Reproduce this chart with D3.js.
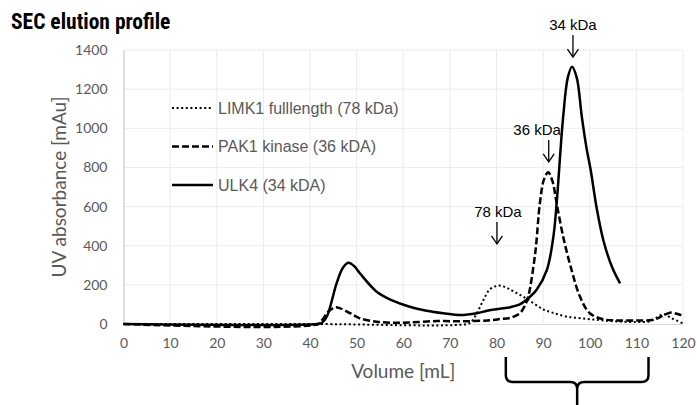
<!DOCTYPE html>
<html>
<head>
<meta charset="utf-8">
<script src="https://cdn.jsdelivr.net/npm/d3@7"></script>
<style>
  body { margin: 0; background: #fff; }
  svg { display: block; }
</style>
</head>
<body>
<div id="chart"></div>
<script>
// elution volume [mL] vs absorbance [mAu]
const limk1 = [[0, 0], [40, 0], [74, 2], [74.6, 12], [75.8, 55], [77.2, 123], [78.5, 175], [80, 194], [80.8, 196],
  [82.2, 185], [84, 162], [85.7, 140], [88, 105], [90, 75], [92, 58], [95, 38], [98.6, 28], [102.2, 20],
  [105.8, 13], [110, 10], [113, 14], [115.8, 50], [117.5, 30], [120, 3]];
const pak1 = [[0, 0], [41.8, 0], [42.6, 20], [44, 65], [45.4, 85], [46.5, 80], [48.6, 55], [50.7, 29], [54.3, 12],
  [58, 6], [61.4, 8], [67.2, 15], [72.9, 14], [78, 18], [80.7, 25], [83, 32], [85, 55], [86, 90], [86.8, 140],
  [88.3, 361], [89.3, 617], [90.2, 740], [91.1, 775], [92, 730], [92.9, 617], [94.3, 446], [96.1, 276],
  [97.9, 140], [100, 55], [102.9, 24], [106, 18], [110, 18], [113.6, 22], [115.5, 40], [117.2, 58], [119, 50], [120, 42]];
const ulk4 = [[0, 0], [41.6, 0], [42.5, 5], [43.6, 37], [45.7, 208], [47, 285], [48.2, 313], [49.5, 295],
  [50.7, 259], [54.3, 165], [57.5, 122], [61.4, 88], [65, 68], [68.6, 55], [72.2, 46], [75.8, 55], [78, 68],
  [80.7, 78], [83, 86], [85, 100], [86.5, 125], [88.6, 175], [90.8, 276], [92.2, 446], [92.9, 617],
  [94.3, 1059], [95.3, 1260], [96.2, 1315], [97.2, 1260], [98.3, 1059], [99.3, 900], [100.2, 787],
  [101.5, 590], [103, 420], [104.8, 290], [106.5, 208]];

const seriesNames = ['LIMK1 fulllength (78 kDa)', 'PAK1 kinase (36 kDA)', 'ULK4 (34 kDA)'];
const xTicks = [0, 10, 20, 30, 40, 50, 60, 70, 80, 90, 100, 110, 120];
const yTicks = [0, 200, 400, 600, 800, 1000, 1200, 1400];

// peak markers: label, volume, arrow tail / tip, label baseline (mAu)
const peakLabels = ['78 kDa', '36 kDa', '34 kDa'];
const peakVol = [80.1, 91.2, 96.4];
const labelVol = [80.3, 88.7, 96.4];
const arrowFrom = [521, 940, 1477];
const arrowTo = [409, 828, 1364];
const labelAt = [547, 966, 1502];
const bracketRange = [82, 112.6];

const width = 697, height = 405;
const margin = { top: 50, right: 14, bottom: 81, left: 123.5 };

const svg = d3.select('#chart').append('svg')
  .attr('width', width)
  .attr('height', height);

const x = d3.scaleLinear().domain([0, 120]).range([margin.left, width - margin.right]);
const y = d3.scaleLinear().domain([0, 1400]).range([height - margin.bottom, margin.top]);

// grid
svg.append('g').selectAll('line.v').data(xTicks.slice(1)).join('line')
  .attr('x1', d => x(d)).attr('x2', d => x(d))
  .attr('y1', y(0)).attr('y2', y(1400))
  .attr('stroke', '#ebebeb').attr('stroke-width', 1);
svg.append('g').selectAll('line.h').data(yTicks.slice(1)).join('line')
  .attr('x1', x(0)).attr('x2', x(120))
  .attr('y1', d => y(d)).attr('y2', d => y(d))
  .attr('stroke', '#ebebeb').attr('stroke-width', 1);

// axes
const yAxis = svg.append('g')
  .attr('transform', `translate(${x(0)},0)`)
  .call(d3.axisLeft(y).tickValues(yTicks).tickFormat(d3.format('d')).tickSize(0).tickPadding(16));
yAxis.select('.domain').attr('stroke', '#bfbfbf');
const xAxis = svg.append('g')
  .attr('transform', `translate(0,${y(0)})`)
  .call(d3.axisBottom(x).tickValues(xTicks).tickFormat(d3.format('d')).tickSize(0).tickPadding(14));
xAxis.select('.domain').attr('stroke', '#d9d9d9');
svg.selectAll('.tick text')
  .attr('font-family', 'Lato, "Open Sans", sans-serif')
  .attr('font-size', 14)
  .attr('fill', '#595959');

svg.append('text')
  .attr('transform', `translate(66,${(y(0) + y(1400)) / 2}) rotate(-90)`)
  .attr('text-anchor', 'middle')
  .attr('font-family', 'Lato, "Open Sans", sans-serif')
  .attr('font-size', 19)
  .attr('fill', '#595959')
  .text('UV absorbance [mAu]');

svg.append('text')
  .attr('x', (x(0) + x(120)) / 2)
  .attr('y', 378)
  .attr('text-anchor', 'middle')
  .attr('font-family', 'Lato, "Open Sans", sans-serif')
  .attr('font-size', 19)
  .attr('fill', '#595959')
  .text('Volume [mL]');

svg.append('text')
  .attr('x', 11)
  .attr('y', 29)
  .attr('font-family', '"Liberation Sans Narrow", "Roboto Condensed", "Liberation Sans", sans-serif')
  .attr('font-weight', 'bold')
  .attr('font-size', 21.5)
  .attr('fill', '#000')
  .text('SEC elution profile');

// traces
const line = d3.line()
  .x(d => x(d[0]))
  .y(d => y(d[1]))
  .curve(d3.curveCatmullRom.alpha(0.5));

const styles = [
  { dash: '2,2.6', w: 2 },
  { dash: '7,3', w: 2.5 },
  { dash: null, w: 2.5 }
];
[limk1, pak1, ulk4].forEach((s, i) => {
  svg.append('path')
    .datum(s)
    .attr('d', line)
    .attr('fill', 'none')
    .attr('stroke', '#000')
    .attr('stroke-width', styles[i].w)
    .attr('stroke-dasharray', styles[i].dash);
});

// legend
const legend = svg.append('g').attr('transform', 'translate(172,108)');
seriesNames.forEach((name, i) => {
  const g = legend.append('g').attr('transform', `translate(0,${i * 38.5})`);
  g.append('line')
    .attr('x1', 0).attr('x2', 41)
    .attr('stroke', '#000')
    .attr('stroke-width', styles[i].w)
    .attr('stroke-dasharray', styles[i].dash);
  g.append('text')
    .attr('x', 46)
    .attr('dy', '0.35em')
    .attr('font-family', '"Liberation Sans", Arial, sans-serif')
    .attr('font-size', 16)
    .attr('fill', '#595959')
    .text(name);
});

// peak annotations
peakLabels.forEach((lab, i) => {
  const ax = x(peakVol[i]);
  const tip = y(arrowTo[i]);
  svg.append('line')
    .attr('x1', ax).attr('x2', ax)
    .attr('y1', y(arrowFrom[i])).attr('y2', tip)
    .attr('stroke', '#000').attr('stroke-width', 1.3);
  svg.append('path')
    .attr('d', `M${ax - 5.5},${tip - 8}L${ax},${tip}L${ax + 5.5},${tip - 8}`)
    .attr('fill', 'none').attr('stroke', '#000').attr('stroke-width', 1.3);
  svg.append('text')
    .attr('x', x(labelVol[i]))
    .attr('y', y(labelAt[i]))
    .attr('text-anchor', 'middle')
    .attr('font-family', '"Liberation Sans", Arial, sans-serif')
    .attr('font-size', 15)
    .attr('fill', '#000')
    .text(lab);
});

// brace under the pooled fractions
const bl = x(bracketRange[0]), br = x(bracketRange[1]), bm = (bl + br) / 2;
const braceTop = 357, braceMid = 382, r = 7;
svg.append('path')
  .attr('d', `M${bl},${braceTop}L${bl},${braceMid - r}Q${bl},${braceMid} ${bl + r},${braceMid}L${bm - r},${braceMid}Q${bm},${braceMid} ${bm},${braceMid + r}L${bm},${height}` +
    `M${br},${braceTop}L${br},${braceMid - r}Q${br},${braceMid} ${br - r},${braceMid}L${bm + r},${braceMid}Q${bm},${braceMid} ${bm},${braceMid + r}`)
  .attr('fill', 'none')
  .attr('stroke', '#000')
  .attr('stroke-width', 2.5);
</script>
</body>
</html>
